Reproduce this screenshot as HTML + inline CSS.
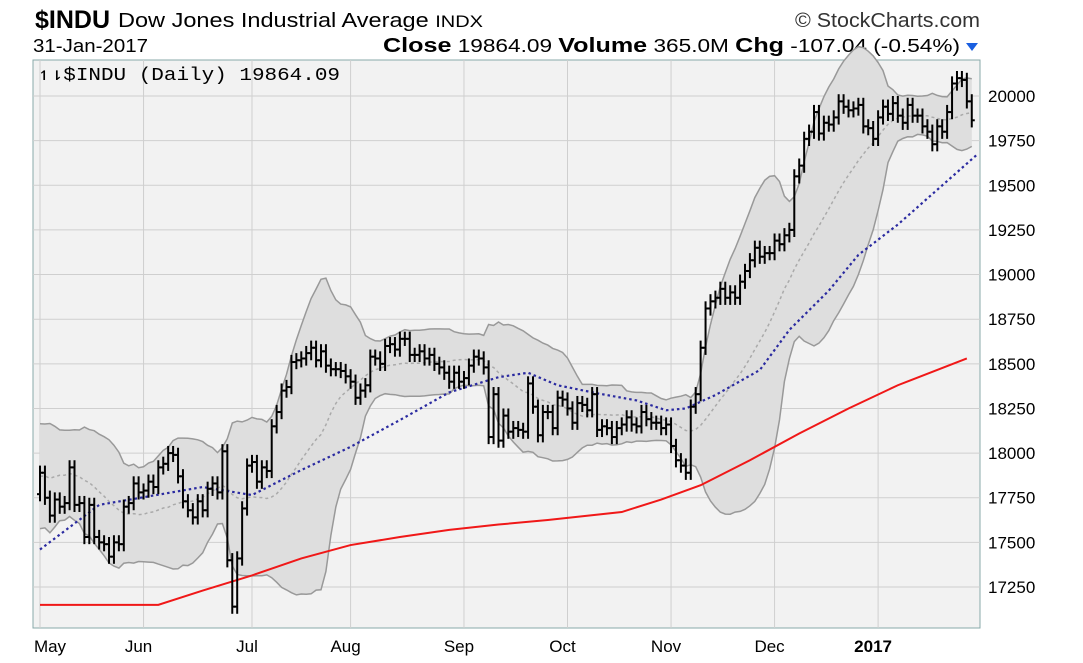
<!DOCTYPE html>
<html><head><meta charset="utf-8">
<style>
body{margin:0;background:#fff;width:1083px;height:663px;overflow:hidden;font-family:"Liberation Sans",sans-serif;}
svg{position:absolute;left:0;top:0}
</style></head>
<body>
<svg id="chart" width="1083" height="663">
  <g font-family="Liberation Sans, sans-serif">
    <text x="35" y="28" font-size="25" font-weight="bold" textLength="75" lengthAdjust="spacingAndGlyphs">$INDU</text>
    <text x="118" y="27" font-size="20" textLength="365" lengthAdjust="spacingAndGlyphs">Dow Jones Industrial Average <tspan font-size="17">INDX</tspan></text>
    <text x="795" y="27" font-size="20" textLength="185" lengthAdjust="spacingAndGlyphs" fill="#333">© StockCharts.com</text>
    <text x="33" y="52" font-size="18" textLength="115" lengthAdjust="spacingAndGlyphs">31-Jan-2017</text>
    <text x="383" y="52" font-size="18" textLength="577" lengthAdjust="spacingAndGlyphs"><tspan font-weight="bold" font-size="20">Close</tspan> 19864.09 <tspan font-weight="bold" font-size="20">Volume</tspan> 365.0M <tspan font-weight="bold" font-size="20">Chg</tspan> -107.04 (-0.54%)</text>
    <path d="M966 43 L978 43 L972 51 Z" fill="#1a5fe0"/>
  </g>
  <rect x="33" y="60" width="947" height="568" fill="#f2f2f2" stroke="#8aa" stroke-width="1"/>
  <g id="grid"></g>
  <g id="bands"></g>
  <g id="mas"></g>
  <g id="bars"></g>
  <g id="axes"></g>
  <text x="38" y="80" font-size="18" textLength="302" lengthAdjust="spacingAndGlyphs" font-family="Liberation Mono, monospace">↿⇂$INDU (Daily) 19864.09</text>
</svg>
<script>
const preHistory=[17850,17720,17900,17570,17550,17700,17720,17900,17910,17930,17980,18000,18050,17980,18000,17980,17990,18040,17830,17770];
const closes=[
17890,17750,17650,17740,17700,17720,17920,17710,17720,17530,17710,17530,17500,17490,17420,17500,17490,17700,17720,17830,17780,
17790,17840,17810,17920,17940,18000,17990,17870,17730,17680,17640,17730,17680,17800,17830,17780,18010,17400,17140,17410,17690,17930,
17950,17840,17920,17900,18150,18230,18350,18370,18510,18520,18530,18560,18590,18520,18570,18490,18470,18470,18460,18430,
18400,18310,18350,18380,18540,18530,18500,18600,18610,18580,18640,18640,18550,18550,18570,18530,18550,18500,18480,18450,18400,18450,18400,
18420,18490,18540,18530,18480,18090,18330,18070,18210,18120,18140,18130,18120,18390,18260,18100,18230,18230,18140,18310,18300,
18250,18170,18280,18270,18240,18330,18130,18150,18140,18090,18140,18160,18200,18160,18150,18230,18190,18170,18170,18140,18160,
18040,17960,17930,17890,18260,18330,18590,18810,18850,18870,18920,18870,18900,18870,18960,19020,19080,19150,19100,19120,19120,
19190,19170,19220,19250,19550,19610,19760,19800,19910,19790,19850,19840,19880,19970,19940,19920,19930,19950,19830,19820,19760,
19880,19940,19900,19960,19890,19850,19950,19890,19890,19830,19800,19730,19830,19800,19910,20070,20100,20090,19970,19864];
const ma50Days=[0,12,33,43,53,63,73,83,93,99,105,113,121,127,131,137,146,152,160,166,174,182,190];
const ma50Vals=[17460,17710,17810,17765,17905,18035,18185,18340,18425,18450,18380,18335,18295,18240,18250,18325,18465,18690,18910,19110,19280,19475,19670];
const ma200Days=[0,24,33,43,53,63,73,83,93,103,118,126,134,144,154,164,174,188];
const ma200Vals=[17150,17150,17230,17315,17410,17485,17530,17570,17600,17625,17670,17740,17820,17960,18110,18250,18380,18530];
const yTicks=[17250,17500,17750,18000,18250,18500,18750,19000,19250,19500,19750,20000];
const monthLabels=["May","Jun","Jul","Aug","Sep","Oct","Nov","Dec","2017"];
const monthStarts=[0,21,43,63,86,107,128,149,170];

const NS="http://www.w3.org/2000/svg";
const X0=40,DX=4.93,PL=33,PR=980,PT=60,PB=628;
const xs=i=>X0+i*DX;
const ys=v=>96+(20000-v)*0.17855;
function mk(tag,attrs,parent){const e=document.createElementNS(NS,tag);for(const k in attrs)e.setAttribute(k,attrs[k]);parent.appendChild(e);return e;}
const grid=document.getElementById('grid'),axes=document.getElementById('axes');
yTicks.forEach(t=>{
  const l=mk('line',{x1:PL,x2:PR,y1:ys(t),y2:ys(t),stroke:'#cfcfcf','stroke-width':1},grid);
  
  
  const tx=mk('text',{x:988,y:ys(t)+6,'font-size':17,'font-family':'Liberation Sans, sans-serif'},axes);
  tx.textContent=t;
  
  
});
monthStarts.forEach((d,k)=>{
  const l=mk('line',{x1:xs(d),x2:xs(d),y1:PT,y2:PB,stroke:'#cfcfcf','stroke-width':1},grid);
  
  
  const tx=mk('text',{x:k==0?50:xs(d)-5,y:652,'text-anchor':'middle','font-size':17,'font-weight':k==8?'bold':'normal','font-family':'Liberation Sans, sans-serif'},axes);
  tx.textContent=monthLabels[k];
  
  
});
// Bollinger 20,2
const all=preHistory.concat(closes),off=preHistory.length;
let up=[],lo=[],mid=[];
for(let i=0;i<closes.length;i++){
  const w=all.slice(i+off-19,i+off+1);const m=w.reduce((a,b)=>a+b,0)/20;
  const sd=Math.sqrt(w.reduce((a,b)=>a+(b-m)*(b-m),0)/20);
  up.push([xs(i),ys(m+2*sd)]);lo.push([xs(i),ys(m-2*sd)]);mid.push([xs(i),ys(m)]);
}
const bands=document.getElementById('bands');
const pts=a=>a.map(p=>p[0].toFixed(1)+','+p[1].toFixed(1)).join(' ');
const bf=mk('polygon',{points:pts(up)+' '+pts(lo.slice().reverse()),fill:'#dedede',stroke:'none'},bands);


const bu=mk('polyline',{points:pts(up),fill:'none',stroke:'#999','stroke-width':1.5},bands);


const bl=mk('polyline',{points:pts(lo),fill:'none',stroke:'#999','stroke-width':1.5},bands);


const bm=mk('polyline',{points:pts(mid),fill:'none',stroke:'#aaa','stroke-width':1.5,'stroke-dasharray':'3,3'},bands);


const mas=document.getElementById('mas');
const m50=mk('polyline',{points:ma50Days.map((d,i)=>xs(d)+','+ys(ma50Vals[i])).join(' '),fill:'none',stroke:'#2a2aa0','stroke-width':2.2,'stroke-dasharray':'2.5,3'},mas);


const m200=mk('polyline',{points:ma200Days.map((d,i)=>xs(d)+','+ys(ma200Vals[i])).join(' '),fill:'none',stroke:'#f01818','stroke-width':2},mas);


const bars=document.getElementById('bars');
closes.forEach((c,i)=>{
  const p=all[i+off-1];const hi=Math.max(p,c)+40,lw=Math.min(p,c)-40;
  const x=xs(i);
  const g=mk('g',{stroke:'#000','stroke-width':2},bars);
  
  
  mk('line',{x1:x,x2:x,y1:ys(hi),y2:ys(lw)},g);
  mk('line',{x1:x-3,x2:x,y1:ys(p),y2:ys(p)},g);
  mk('line',{x1:x,x2:x+3,y1:ys(c),y2:ys(c)},g);
});
</script>
</body></html>
